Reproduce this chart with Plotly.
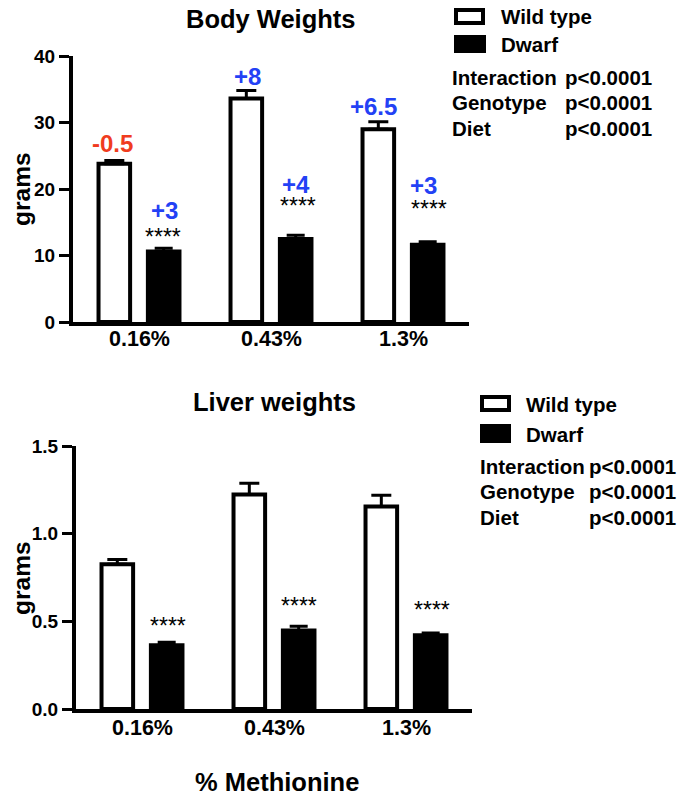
import plotly.graph_objects as go

# ---------------- data ----------------
categories = ["0.16%", "0.43%", "1.3%"]

body_wt = [23.8, 33.6, 29.0]
body_wt_err = [0.5, 1.2, 1.1]
body_dw = [10.6, 12.5, 11.6]
body_dw_err = [0.5, 0.55, 0.45]

liver_wt = [0.825, 1.224, 1.155]
liver_wt_err = [0.028, 0.064, 0.064]
liver_dw = [0.364, 0.448, 0.421]
liver_dw_err = [0.016, 0.024, 0.012]

body_wt_change = ["-0.5", "+8", "+6.5"]
body_dw_change = ["+3", "+4", "+3"]
sig_marks = ["****", "****", "****"]

stat_terms = ["Interaction", "Genotype", "Diet"]
stat_p = ["p<0.0001", "p<0.0001", "p<0.0001"]

body_ticks = [0, 10, 20, 30, 40]
liver_ticks = [0.0, 0.5, 1.0, 1.5]

# ---------------- layout helpers ----------------
# the page body adds an 8px margin, so the figure is drawn 8px in and 8px down
PAGE_OFF = 8
W, H = 685 - PAGE_OFF, 798 - PAGE_OFF
FONT = "Liberation Sans, Arial, Helvetica, sans-serif"
BLUE = "rgb(35,65,245)"
RED = "rgb(240,60,30)"
BARGAP = 0.252
BARGROUPGAP = 0.36
OFF = (1 - BARGAP) / 4.0


def px(x, y):
    """reference-picture pixel -> paper fraction"""
    return (x - PAGE_OFF) / W, 1 - (y - PAGE_OFF) / H


def dom_x(a, b):
    return [(a - PAGE_OFF) / W, (b - PAGE_OFF) / W]


def dom_y(top, bottom):
    return [1 - (bottom - PAGE_OFF) / H, 1 - (top - PAGE_OFF) / H]


def bars(wt, wte, dw, dwe, xa, ya):
    common = dict(x=categories, xaxis=xa, yaxis=ya, showlegend=False, hoverinfo="skip")
    t1 = go.Bar(y=wt, name="Wild type",
                marker=dict(color="white", line=dict(color="black", width=4)),
                error_y=dict(type="data", symmetric=False, array=wte, arrayminus=[0] * len(wte),
                             color="black", thickness=3, width=10), **common)
    t2 = go.Bar(y=dw, name="Dwarf",
                marker=dict(color="black", line=dict(color="black", width=4)),
                error_y=dict(type="data", symmetric=False, array=dwe, arrayminus=[0] * len(dwe),
                             color="black", thickness=3, width=9), **common)
    return [t1, t2]


fig = go.Figure()
for t in bars(body_wt, body_wt_err, body_dw, body_dw_err, "x", "y"):
    fig.add_trace(t)
for t in bars(liver_wt, liver_wt_err, liver_dw, liver_dw_err, "x2", "y2"):
    fig.add_trace(t)

ann = []


def txt(x, y, text, size, bold=True, color="black", xanchor="center", yanchor="middle", angle=0):
    ax, ay = px(x, y)
    ann.append(dict(x=ax, y=ay, xref="paper", yref="paper", text=text, showarrow=False,
                    xanchor=xanchor, yanchor=yanchor, textangle=angle,
                    font=dict(family=FONT, size=size, color=color,
                              weight="bold" if bold else "normal")))


def dlabel(xref, yref, xval, yval, text, size, color, dx, dy, bold=True):
    ann.append(dict(x=xval, y=yval, xref=xref, yref=yref, text=text,
                    showarrow=False, xanchor="center", yanchor="middle",
                    xshift=dx, yshift=dy,
                    font=dict(family=FONT, size=size, color=color,
                              weight="bold" if bold else "normal")))


# labels above the bars (pixel shifts from the error-bar tops)
wt_shift = [(-2, 17), (1, 14), (-5, 15)]
dw_shift = [(1, 38), (0, 51), (-4, 56)]
sig_top_shift = [(-1, 11), (2, 29), (1, 33)]
sig_bot_shift = [(1, 16), (0, 20), (1, 23)]
for i in range(3):
    c = RED if body_wt_change[i].startswith("-") else BLUE
    dlabel("x", "y", i - OFF, body_wt[i] + body_wt_err[i], body_wt_change[i], 24, c, *wt_shift[i])
    c = RED if body_dw_change[i].startswith("-") else BLUE
    dlabel("x", "y", i + OFF, body_dw[i] + body_dw_err[i], body_dw_change[i], 24, c, *dw_shift[i])
    dlabel("x", "y", i + OFF, body_dw[i] + body_dw_err[i], sig_marks[i], 23, "black",
           *sig_top_shift[i], bold=False)
    dlabel("x2", "y2", i + OFF, liver_dw[i] + liver_dw_err[i], sig_marks[i], 23, "black",
           *sig_bot_shift[i], bold=False)
    # category tick labels under each axis
    dlabel("x", "y", i, 0, categories[i], 21.5, "black", 0, -17)
    dlabel("x2", "y2", i, 0, categories[i], 21.5, "black", 0, -19)

# titles
txt(271, 19, "Body Weights", 25.5)
txt(274, 402, "Liver weights", 25.5)
txt(277, 782, "% Methionine", 25.5)
txt(21, 189, "grams", 24.5, angle=-90)
txt(21, 578, "grams", 24.5, angle=-90)

# legends and stats
shapes = []


def box(x0, y0, x1, y1, fill):
    a0, b0 = px(x0, y0)
    a1, b1 = px(x1, y1)
    shapes.append(dict(type="rect", xref="paper", yref="paper", x0=a0, x1=a1, y0=b1, y1=b0,
                       fillcolor=fill, line=dict(color="black", width=4)))


# top legend
box(456, 10, 483, 23, "white")
box(456, 37, 484, 51, "black")
txt(499, 17, "Wild type", 20.5, xanchor="left")
txt(499, 44, "Dwarf", 20.5, xanchor="left")
for k, yy in enumerate([77, 103, 128]):
    txt(450, yy, stat_terms[k], 20.5, xanchor="left")
    txt(563, yy, stat_p[k], 20.5, xanchor="left")

# bottom legend
box(482, 397, 509, 410, "white")
box(482, 426, 509, 441, "black")
txt(524, 404, "Wild type", 20.5, xanchor="left")
txt(524, 434, "Dwarf", 20.5, xanchor="left")
for k, yy in enumerate([466, 491, 517]):
    txt(478, yy, stat_terms[k], 20.5, xanchor="left")
    txt(587, yy, stat_p[k], 20.5, xanchor="left")

xcommon = dict(type="category", showline=True, linewidth=4, linecolor="black", ticks="",
               showgrid=False, zeroline=False, range=[-0.5, 2.5], automargin=False,
               showticklabels=False)
ycommon = dict(showline=True, linewidth=4, linecolor="black", ticks="outside", ticklen=10,
               tickwidth=3, tickcolor="black", showgrid=False, zeroline=False, automargin=False,
               tickfont=dict(family=FONT, size=19, color="black", weight="bold"))

fig.update_layout(
    width=W, height=H,
    margin=dict(l=0, r=0, t=0, b=0, pad=0),
    paper_bgcolor="white", plot_bgcolor="white",
    barmode="group", bargap=BARGAP, bargroupgap=BARGROUPGAP,
    showlegend=False,
    xaxis=dict(domain=dom_x(73, 469), anchor="y", **xcommon),
    yaxis=dict(domain=dom_y(56, 322), anchor="x", range=[0, 40],
               tickvals=body_ticks, **ycommon),
    xaxis2=dict(domain=dom_x(76, 472), anchor="y2", **xcommon),
    yaxis2=dict(domain=dom_y(446, 709), anchor="x2", range=[0, 1.5],
                tickvals=liver_ticks, tickformat=".1f", **ycommon),
    annotations=ann,
    shapes=shapes,
)

fig.write_html("out.html")
